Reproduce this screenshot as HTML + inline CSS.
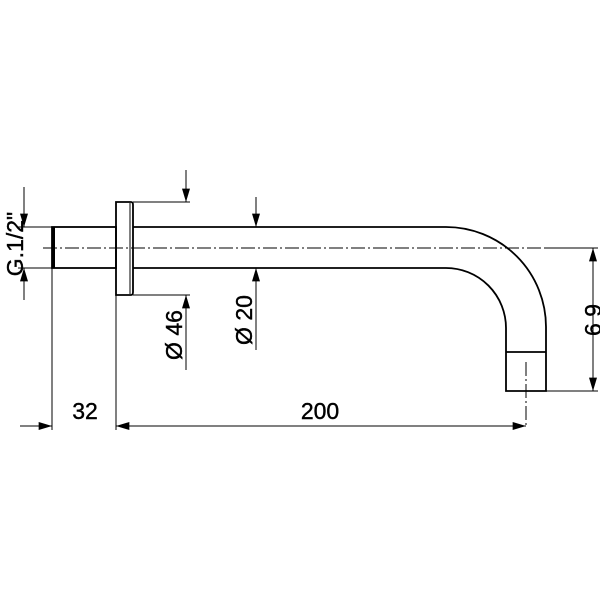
<!DOCTYPE html>
<html><head><meta charset="utf-8"><style>html,body{margin:0;padding:0;background:#fff}svg{display:block}</style></head>
<body>
<svg width="600" height="600" viewBox="0 0 600 600" xmlns="http://www.w3.org/2000/svg">
<defs>
<marker id="a" viewBox="0 0 10 6" refX="10" refY="3" markerWidth="14" markerHeight="8" markerUnits="userSpaceOnUse" orient="auto"><path d="M0,0L10,3L0,6z" fill="#000"/></marker>
</defs>
<g fill="none" stroke="#000" stroke-width="1.8">
<rect x="52" y="227" width="64" height="41"/>
<line x1="53.5" y1="227" x2="53.5" y2="268" stroke-width="3"/>
<path d="M116,202 H131 Q133,202 133,205 V292 Q133,295 131,295 H116 Z"/>
<line x1="130" y1="203" x2="130" y2="294" stroke-width="1"/>
<path d="M133,227 H446 A100,100 0 0 1 546,327 V391 H506 V328 A60,60 0 0 0 446,268 H133"/>
<line x1="506" y1="352" x2="546" y2="352"/>
</g>
<g fill="none" stroke="#000" stroke-width="1">
<line x1="43" y1="248" x2="548" y2="248" stroke-dasharray="14,3,2,3"/>
<line x1="526" y1="362" x2="526" y2="426" stroke-dasharray="14,3,2,3"/>
<line x1="18" y1="227" x2="52" y2="227"/>
<line x1="18" y1="268" x2="52" y2="268"/>
<line x1="24" y1="187" x2="24" y2="227" marker-end="url(#a)"/>
<line x1="24" y1="300" x2="24" y2="268" marker-end="url(#a)"/>
<line x1="133" y1="202" x2="190" y2="202"/>
<line x1="133" y1="295" x2="190" y2="295"/>
<line x1="186" y1="170" x2="186" y2="202" marker-end="url(#a)"/>
<line x1="186" y1="370" x2="186" y2="295" marker-end="url(#a)"/>
<line x1="256" y1="197" x2="256" y2="227" marker-end="url(#a)"/>
<line x1="256" y1="350" x2="256" y2="268" marker-end="url(#a)"/>
<line x1="546" y1="248" x2="598" y2="248"/>
<line x1="546" y1="391" x2="598" y2="391"/>
<line x1="593" y1="320" x2="593" y2="248" marker-end="url(#a)"/>
<line x1="593" y1="320" x2="593" y2="391" marker-end="url(#a)"/>
<line x1="52" y1="268" x2="52" y2="430"/>
<line x1="116" y1="295" x2="116" y2="430"/>
<line x1="20" y1="426" x2="52" y2="426" marker-end="url(#a)"/>
<line x1="150" y1="426" x2="116" y2="426" marker-end="url(#a)"/>
<line x1="150" y1="426" x2="526" y2="426" marker-end="url(#a)"/>
</g>
<g font-family="Liberation Sans, sans-serif" font-size="23" fill="#000" stroke="#000" stroke-width="0.4">
<text x="85" y="419" text-anchor="middle">32</text>
<text x="320" y="419" text-anchor="middle">200</text>
<text transform="translate(601,320) rotate(-90)" text-anchor="middle">6 9</text>
<text transform="translate(182,335) rotate(-90)" text-anchor="middle">Ø 46</text>
<text transform="translate(252,320) rotate(-90)" text-anchor="middle">Ø 20</text>
<text transform="translate(23,244) rotate(-90)" text-anchor="middle">G.1/2"</text>
</g>
</svg>
</body></html>
